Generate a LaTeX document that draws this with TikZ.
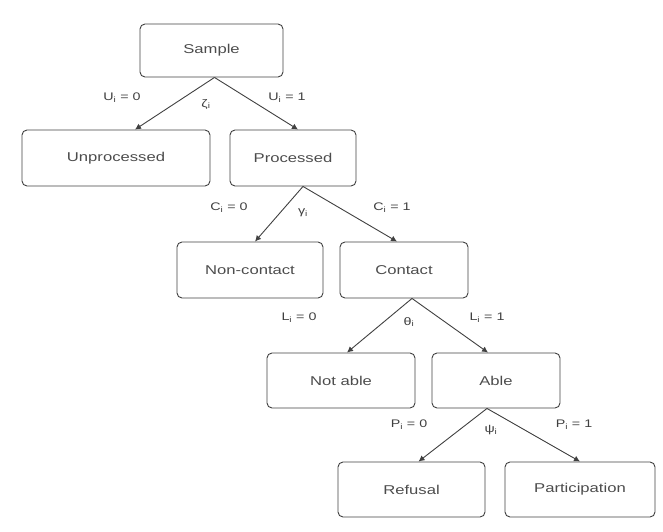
\documentclass[tikz,border=0pt]{standalone}
\usepackage{fontspec}
\setmainfont{Liberation Sans}
\newfontfamily\wideface[FakeStretch=1.3]{Liberation Sans}
\usetikzlibrary{arrows.meta}
\begin{document}
\begin{tikzpicture}[x=1pt,y=-1pt,
  state/.style={draw=black!75, line width=0.9pt, rounded corners=5pt, inner sep=0pt,
    font=\wideface\fontsize{12.8}{15}\selectfont, text=black!70},
  link/.style={draw=black!75, line width=0.9pt, -{Latex[length=6pt,width=6pt]}},
  lab/.style={font=\wideface\fontsize{11}{13}\selectfont, text=black!75, inner sep=0pt}]
\useasboundingbox (0,0) rectangle (663,532);
% boxes, sized by corner points
\node[state, minimum width=143pt, minimum height=53pt] (sample) at (211.5,50.5) {Sample};
\node[state, minimum width=188pt, minimum height=56pt] (unproc) at (116,158) {Unprocessed};
\node[state, minimum width=126pt, minimum height=56pt] (proc) at (293,158) {Processed};
\node[state, minimum width=146pt, minimum height=56pt] (noncon) at (250,270) {Non-contact};
\node[state, minimum width=128pt, minimum height=56pt] (con) at (404,270) {Contact};
\node[state, minimum width=148pt, minimum height=55pt] (notable) at (341,380.5) {Not able};
\node[state, minimum width=128pt, minimum height=55pt] (able) at (496,380.5) {Able};
\node[state, minimum width=147pt, minimum height=55pt] (refusal) at (411.5,489.5) {Refusal};
\node[state, minimum width=150pt, minimum height=55pt] (part) at (580,489.5) {Participation};
% branches
\draw[link] ([xshift=3pt]sample.south) -- ([xshift=19pt]unproc.north);
\draw[link] ([xshift=3pt]sample.south) -- ([xshift=5pt]proc.north);
\draw[link] ([xshift=10pt]proc.south) -- ([xshift=5pt]noncon.north);
\draw[link] ([xshift=10pt]proc.south) -- ([xshift=-7pt]con.north);
\draw[link] ([xshift=8pt]con.south) -- ([xshift=6pt]notable.north);
\draw[link] ([xshift=8pt]con.south) -- ([xshift=-8pt]able.north);
\draw[link] ([xshift=-9pt]able.south) -- ([xshift=7pt]refusal.north);
\draw[link] ([xshift=-9pt]able.south) -- (part.north);
% branch labels
\node[lab] (u0) at (122,98) {U\textsubscript{i} = 0};
\node[lab] (zeta) at (206,104) {ζ\textsubscript{i}};
\node[lab] (u1) at (287,98) {U\textsubscript{i} = 1};
\node[lab] (c0) at (229,208) {C\textsubscript{i} = 0};
\node[lab] (gam) at (303,213) {γ\textsubscript{i}};
\node[lab] (c1) at (392,208) {C\textsubscript{i} = 1};
\node[lab] (l0) at (299,318) {L\textsubscript{i} = 0};
\node[lab] (the) at (409,322) {θ\textsubscript{i}};
\node[lab] (l1) at (487,318) {L\textsubscript{i} = 1};
\node[lab] (p0) at (409,425) {P\textsubscript{i} = 0};
\node[lab] (psi) at (491,430) {ψ\textsubscript{i}};
\node[lab] (p1) at (574,425) {P\textsubscript{i} = 1};
\end{tikzpicture}
\end{document}
